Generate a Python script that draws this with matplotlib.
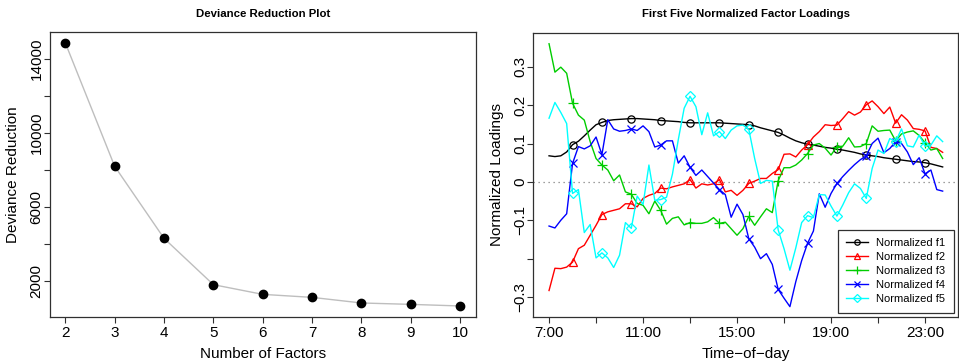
import numpy as np
import matplotlib
matplotlib.use("Agg")
import matplotlib.pyplot as plt

plt.rcParams["font.family"] = ["Liberation Sans", "DejaVu Sans"]
plt.rcParams["axes.unicode_minus"] = True

# 左图: 偏差下降
n_factors = [2, 3, 4, 5, 6, 7, 8, 9, 10]
deviance = [14846, 8197, 4318, 1822, 1300, 1138, 836, 761, 675]

# 右图: 每15分钟一个点, 7:00 - 23:45
hours = 7 + np.arange(68) * 0.25

f1 = [0.068, 0.066, 0.068, 0.078,
      0.097, 0.106, 0.120, 0.135,
      0.149, 0.155, 0.160, 0.162,
      0.163, 0.164, 0.165, 0.165,
      0.164, 0.163, 0.162, 0.160,
      0.159, 0.158, 0.157, 0.155,
      0.154, 0.154, 0.154, 0.154,
      0.154, 0.154, 0.153, 0.152,
      0.151, 0.150, 0.149, 0.146,
      0.141, 0.137, 0.133, 0.129,
      0.122, 0.114, 0.107, 0.102,
      0.098, 0.096, 0.093, 0.090,
      0.088, 0.085, 0.083, 0.080,
      0.077, 0.073, 0.070, 0.068,
      0.066, 0.063, 0.061, 0.059,
      0.057, 0.055, 0.053, 0.052,
      0.050, 0.047, 0.043, 0.039]

f2 = [-0.283, -0.225, -0.226, -0.222,
      -0.209, -0.174, -0.165, -0.139,
      -0.113, -0.085, -0.078, -0.074,
      -0.070, -0.057, -0.057, -0.065,
      -0.043, -0.035, -0.030, -0.016,
      -0.018, -0.013, -0.009, -0.005,
      0.006, -0.016, -0.005, -0.008,
      -0.005, 0.006, -0.026, -0.022,
      -0.035, -0.022, -0.004, 0.002,
      0.009, 0.009, 0.022, 0.032,
      0.072, 0.073, 0.065, 0.083,
      0.097, 0.117, 0.131, 0.149,
      0.147, 0.148, 0.165, 0.183,
      0.174, 0.182, 0.201, 0.211,
      0.196, 0.178, 0.195, 0.153,
      0.175, 0.161, 0.139, 0.137,
      0.133, 0.090, 0.087, 0.077]

f3 = [0.360, 0.286, 0.299, 0.283,
      0.205, 0.174, 0.161, 0.105,
      0.061, 0.044, 0.031, 0.003,
      0.018, -0.026, -0.032, -0.056,
      -0.061, -0.083, -0.050, -0.074,
      -0.110, -0.095, -0.091, -0.112,
      -0.106, -0.108, -0.108, -0.104,
      -0.093, -0.108, -0.105, -0.122,
      -0.139, -0.122, -0.090, -0.113,
      -0.091, -0.070, -0.080, 0.003,
      0.037, 0.037, 0.044, 0.057,
      0.074, 0.096, 0.100, 0.088,
      0.070, 0.092, 0.093, 0.115,
      0.091, 0.092, 0.100, 0.146,
      0.132, 0.134, 0.135, 0.107,
      0.125, 0.130, 0.133, 0.121,
      0.102, 0.083, 0.087, 0.061]

f4 = [-0.115, -0.120, -0.100, -0.083,
      0.048, 0.092, 0.086, 0.094,
      0.117, 0.071, 0.162, 0.138,
      0.132, 0.134, 0.138, 0.134,
      0.146, 0.131, 0.091, 0.096,
      0.107, 0.107, 0.049, 0.068,
      0.038, 0.017, 0.031, 0.014,
      -0.003, -0.020, -0.033, -0.092,
      -0.058, -0.085, -0.148, -0.170,
      -0.200, -0.187, -0.215, -0.280,
      -0.303, -0.325, -0.260, -0.205,
      -0.160, -0.128, -0.031, -0.066,
      -0.030, -0.004, 0.014, 0.030,
      0.045, 0.058, 0.068, 0.100,
      0.114, 0.076, 0.087, 0.105,
      0.100, 0.078, 0.045, 0.063,
      0.021, 0.031, -0.020, -0.024]

f5 = [0.166, 0.207, 0.181, 0.152,
      -0.030, -0.020, -0.132, -0.111,
      -0.198, -0.185, -0.198, -0.223,
      -0.191, -0.106, -0.121, -0.037,
      -0.059, 0.044, -0.048, -0.046,
      -0.040, 0.020, 0.110, 0.192,
      0.223, 0.196, 0.123, 0.180,
      0.120, 0.131, 0.113, 0.135,
      0.146, 0.148, 0.137, 0.061,
      -0.004, 0.004, 0.002, -0.125,
      -0.174, -0.230, -0.172, -0.106,
      -0.088, -0.093, -0.033, -0.034,
      -0.063, -0.089, -0.060, -0.028,
      -0.005, -0.017, -0.043, 0.035,
      0.083, 0.074, 0.113, 0.105,
      0.138, 0.094, 0.091, 0.122,
      0.093, 0.096, 0.120, 0.105]

series_names = ["Normalized f1", "Normalized f2", "Normalized f3",
                "Normalized f4", "Normalized f5"]
series_colors = ["black", "#FF0000", "#00CD00", "#0000FF", "#00FFFF"]
series_markers = ["o", "^", "+", "x", "D"]
series_msize = [5.2, 6.2, 7.0, 5.2, 5.2]

time_ticks = [7, 9, 11, 13, 15, 17, 19, 21, 23]
time_labels = ["7:00", "", "11:00", "", "15:00", "", "19:00", "", "23:00"]

FS = 11
FRAME = "#303030"


def style_axes(ax):
    for sp in ax.spines.values():
        sp.set_color(FRAME)
        sp.set_linewidth(0.9)
    ax.tick_params(direction="out", length=4.3, width=0.8, color=FRAME,
                   labelsize=FS)
    ax.tick_params(axis="x", pad=2.2)
    ax.tick_params(axis="y", pad=5.0)
    for lbl in ax.get_yticklabels():
        lbl.set_rotation(90)
        lbl.set_ha("center")
        lbl.set_va("center")


fig = plt.figure(figsize=(9.59, 3.63), dpi=100)

# ---- 左图
ax1 = fig.add_axes([49.5 / 959, 46.5 / 363, 426.5 / 959, 284.2 / 363])
ax1.plot(n_factors, deviance, color="#BEBEBE", lw=1.0, zorder=1)
ax1.plot(n_factors, deviance, "o", color="black", ms=6, zorder=2)
ax1.set_xlim(1.68, 10.32)
ax1.set_ylim(108, 15413)
ax1.set_xticks(n_factors)
ax1.set_yticks([2000, 4000, 6000, 8000, 10000, 12000, 14000])
ax1.set_yticklabels(["2000", "", "6000", "", "10000", "", "14000"])
style_axes(ax1)
ax1.set_xlabel("Number of Factors", fontsize=FS)
ax1.set_ylabel("Deviance Reduction", fontsize=FS)
ax1.xaxis.set_label_coords(0.5, -0.131)
ax1.xaxis.label.set_va("center")
ax1.yaxis.set_label_coords(-0.085, 0.5)
ax1.yaxis.label.set_va("center")
fig.text((49.5 + 476) / 2 / 959, 1 - 14 / 363, "Deviance Reduction Plot",
         ha="center", va="center", fontsize=8.2, fontweight="bold")

# ---- 右图
ax2 = fig.add_axes([533.3 / 959, 46 / 363, 425.1 / 959, 284 / 363])
ax2.axhline(0, color="#808080", lw=0.9, dashes=(1, 3), zorder=0)
for vals, name, col, mk, ms in zip([f1, f2, f3, f4, f5], series_names,
                                   series_colors, series_markers, series_msize):
    ax2.plot(hours, vals, color=col, lw=1.0, marker=mk, ms=ms,
             markevery=(4, 5), mfc="none", mec=col, mew=0.9, label=name)
ax2.set_xlim(7 - 0.67, 7 + 17.42)
ax2.set_ylim(-0.352, 0.388)
ax2.set_xticks(time_ticks)
ax2.set_xticklabels(time_labels)
ax2.set_yticks([-0.3, -0.2, -0.1, 0.0, 0.1, 0.2, 0.3])
ax2.set_yticklabels(["\u22120.3", "", "\u22120.1", "0", "0.1", "0.2", "0.3"])
style_axes(ax2)
ax2.set_xlabel("Time\u2212of\u2212day", fontsize=FS)
ax2.set_ylabel("Normalized Loadings", fontsize=FS)
ax2.xaxis.set_label_coords(0.5, -0.131)
ax2.xaxis.label.set_va("center")
ax2.yaxis.set_label_coords(-0.086, 0.5)
ax2.yaxis.label.set_va("center")
fig.text((533.3 + 958.4) / 2 / 959, 1 - 14 / 363,
         "First Five Normalized Factor Loadings",
         ha="center", va="center", fontsize=8.2, fontweight="bold")

leg = ax2.legend(loc="lower right", fontsize=8, frameon=True, fancybox=False,
                 framealpha=1, edgecolor=FRAME, borderpad=0.75,
                 labelspacing=0.36, handlelength=1.9, handletextpad=0.8,
                 borderaxespad=0.4, markerscale=0.75)
leg.get_frame().set_linewidth(0.9)

fig.savefig("out.png", dpi=100)
